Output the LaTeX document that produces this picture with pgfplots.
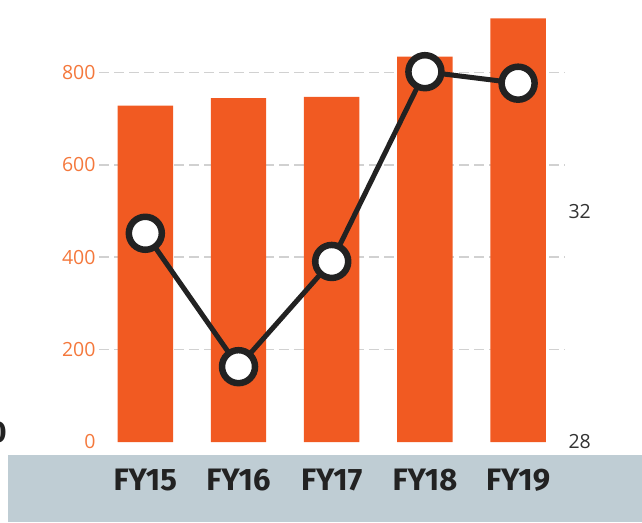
\documentclass[border=0pt]{standalone}
\usepackage{pgfplots}
\pgfplotsset{compat=1.18}
\usepackage{fontspec}
\setmainfont{Open Sans}
\newfontfamily\fira{Fira Sans}
\definecolor{barorange}{HTML}{F15A22}
\definecolor{ticko}{HTML}{F4783C}
\definecolor{band}{HTML}{BFCDD4}
\definecolor{linec}{HTML}{222222}
\definecolor{rtick}{HTML}{333333}
\begin{document}
\begin{tikzpicture}[x=1pt,y=1pt]
\useasboundingbox (0,0) rectangle (642,522);
\clip (0,0) rectangle (642,522);
\fill[band] (8,0) rectangle (642,67);
\node[anchor=base east, inner sep=0pt, font=\fira\bfseries\fontsize{30}{30}\selectfont, text=linec] at (7,80) {0};
\begin{axis}[
  at={(99pt,80pt)}, anchor=south west, scale only axis,
  width=466pt, height=432pt,
  xmin=-0.497, xmax=4.503, ymin=0, ymax=935,
  ybar, bar width=0.595,
  axis line style={draw=none}, tick style={draw=none},
  xtick={0,1,2,3,4}, xticklabels={FY15,FY16,FY17,FY18,FY19},
  xticklabel style={anchor=base, yshift=-44pt, font=\fira\bfseries\fontsize{31}{31}\selectfont, text=linec},
  ytick={200,400,600,800},
  extra y ticks={0}, extra y tick style={grid=none},
  ymajorgrids, grid style={draw=black!18, dash pattern=on 10pt off 5pt, line width=1.6pt},
  yticklabel style={font=\fontsize{19.5}{19.5}\selectfont, text=ticko},
  /pgf/number format/assume math mode=true,
]
\addplot[fill=barorange, draw=none] coordinates {(0,728) (1,744) (2,747) (3,834) (4,917)};
\end{axis}
\begin{axis}[
  at={(99pt,80pt)}, anchor=south west, scale only axis,
  width=466pt, height=432pt,
  xmin=-0.497, xmax=4.503, ymin=28, ymax=35.513,
  axis line style={draw=none}, tick style={draw=none},
  xtick=\empty, ytick={28,32}, yticklabel pos=right,
  yticklabel style={font=\fontsize{19.5}{19.5}\selectfont, text=rtick},
  /pgf/number format/assume math mode=true,
  clip=false,
]
\addplot[linec, line width=5pt, mark=*, mark size=16.5pt, mark options={fill=white, draw=linec, line width=6.5pt}] coordinates {(0,31.63) (1,29.31) (2,31.14) (3,34.44) (4,34.24)};
\end{axis}
\end{tikzpicture}
\end{document}
